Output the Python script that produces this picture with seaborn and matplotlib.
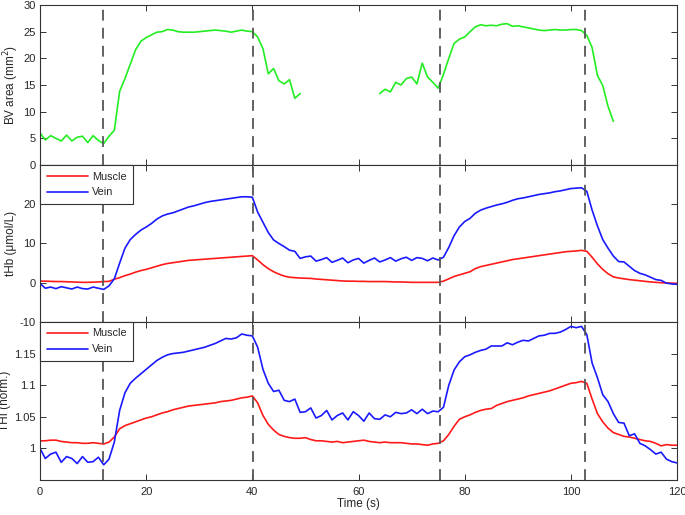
import numpy as np
import pandas as pd
import matplotlib
matplotlib.use('Agg')
import matplotlib.pyplot as plt
import seaborn as sns

# time axis, 1 s sampling
time = np.arange(0, 121)

# BV area (mm^2), NaN where the vessel was not tracked
bv_area = [6.0, 4.7, 5.5, 5.0, 4.5, 5.6, 4.5, 5.2, 5.4, 4.2,
           5.5, 4.6, 4.0, 5.4, 6.5, 13.8, 16.2, 18.9, 21.6, 23.2,
           23.9, 24.4, 24.9, 25.0, 25.4, 25.3, 25.0, 24.9, 24.9, 24.9,
           25.0, 25.1, 25.2, 25.3, 25.2, 25.1, 24.9, 25.1, 25.3, 25.1,
           25.0, 24.0, 21.8, 17.1, 18.1, 15.8, 15.2, 16.0, 12.5, 13.4,
           np.nan, np.nan, np.nan, np.nan, np.nan, np.nan, np.nan, np.nan, np.nan, np.nan,
           np.nan, np.nan, np.nan, np.nan, 13.4, 14.2, 13.7, 15.5, 15.0, 16.2,
           16.5, 15.2, 19.1, 16.5, 15.5, 14.4, 17.0, 20.0, 22.8, 23.6,
           24.0, 25.0, 25.9, 26.3, 26.1, 26.2, 26.1, 26.4, 26.5, 26.0,
           26.1, 25.9, 25.7, 25.5, 25.3, 25.2, 25.3, 25.4, 25.3, 25.3,
           25.4, 25.4, 25.2, 24.3, 22.0, 16.8, 14.9, 11.0, 8.2, np.nan,
           np.nan, np.nan, np.nan, np.nan, np.nan, np.nan, np.nan, np.nan, np.nan, np.nan,
           np.nan]

# tHb (umol/L)
thb_muscle = [0.4, 0.4, 0.35, 0.3, 0.3, 0.25, 0.2, 0.15, 0.1, 0.1,
              0.15, 0.2, 0.3, 0.35, 0.9, 1.3, 1.8, 2.2, 2.7, 3.1,
              3.4, 3.8, 4.2, 4.6, 4.9, 5.1, 5.3, 5.5, 5.7, 5.8,
              5.9, 6.0, 6.1, 6.2, 6.3, 6.4, 6.5, 6.6, 6.7, 6.8,
              6.9, 5.8, 4.6, 3.6, 2.8, 2.2, 1.7, 1.4, 1.3, 1.2,
              1.15, 1.1, 0.95, 0.85, 0.75, 0.65, 0.55, 0.45, 0.4, 0.4,
              0.35, 0.35, 0.3, 0.3, 0.3, 0.3, 0.25, 0.2, 0.2, 0.15,
              0.1, 0.1, 0.1, 0.1, 0.1, 0.1, 0.4, 1.0, 1.6, 2.0,
              2.4, 2.8, 3.6, 4.1, 4.4, 4.7, 5.0, 5.3, 5.6, 5.9,
              6.1, 6.3, 6.5, 6.7, 6.9, 7.1, 7.3, 7.5, 7.7, 7.9,
              8.0, 8.1, 8.25, 8.0, 6.5, 4.8, 3.4, 2.3, 1.5, 1.2,
              1.0, 0.8, 0.65, 0.5, 0.35, 0.2, 0.1, 0.0, -0.05, -0.1,
              -0.15]
thb_vein = [-0.2, -1.4, -1.1, -1.5, -1.0, -1.3, -1.6, -1.1, -1.5, -1.6,
            -1.1, -1.4, -1.7, -0.8, 1.0, 5.0, 8.8, 11.0, 12.3, 13.4,
            14.2, 15.1, 16.2, 17.0, 17.5, 17.8, 18.3, 18.8, 19.3, 19.6,
            20.0, 20.4, 20.7, 20.9, 21.1, 21.3, 21.5, 21.7, 21.9, 21.9,
            21.8, 18.0, 15.4, 12.8, 10.9, 10.0, 9.2, 8.3, 8.0, 6.2,
            6.6, 6.8, 5.5, 5.9, 6.4, 5.2, 5.7, 6.3, 5.1, 5.8,
            6.2, 5.0, 5.7, 6.3, 5.3, 5.8, 6.4, 5.5, 6.1, 6.5,
            5.7, 6.4, 6.2, 5.6, 6.3, 5.8, 6.5, 9.0, 12.0, 14.2,
            15.6, 16.4, 17.7, 18.5, 19.0, 19.4, 19.8, 20.1, 20.5, 21.0,
            21.4, 21.6, 21.9, 22.2, 22.5, 22.7, 22.9, 23.2, 23.4, 23.7,
            24.0, 24.1, 24.2, 23.3, 18.5, 14.5, 11.0, 8.8, 6.8, 5.4,
            5.3, 4.2, 3.1, 2.4, 2.0, 1.4, 0.8, 0.6, -0.1, -0.3,
            -0.4]

# THI (normalised)
thi_muscle = [1.012, 1.012, 1.013, 1.013, 1.011, 1.010, 1.009, 1.009, 1.008, 1.008,
              1.009, 1.008, 1.007, 1.010, 1.018, 1.031, 1.036, 1.039, 1.042, 1.045,
              1.048, 1.050, 1.053, 1.056, 1.058, 1.061, 1.063, 1.065, 1.067, 1.068,
              1.069, 1.070, 1.071, 1.072, 1.074, 1.075, 1.076, 1.078, 1.080, 1.081,
              1.083, 1.072, 1.052, 1.038, 1.029, 1.022, 1.019, 1.017, 1.016, 1.016,
              1.017, 1.014, 1.012, 1.012, 1.011, 1.010, 1.011, 1.009, 1.010, 1.011,
              1.012, 1.013, 1.011, 1.010, 1.009, 1.010, 1.009, 1.009, 1.009, 1.008,
              1.007, 1.007, 1.006, 1.005, 1.007, 1.008, 1.012, 1.022, 1.035, 1.046,
              1.050, 1.053, 1.057, 1.060, 1.062, 1.063, 1.068, 1.071, 1.074, 1.076,
              1.078, 1.080, 1.083, 1.085, 1.087, 1.089, 1.091, 1.094, 1.097, 1.100,
              1.103, 1.104, 1.106, 1.103, 1.078, 1.055, 1.042, 1.032, 1.025, 1.022,
              1.019, 1.018, 1.016, 1.014, 1.012, 1.011, 1.008, 1.004, 1.006, 1.005,
              1.005]
thi_vein = [1.000, 0.984, 0.991, 0.994, 0.978, 0.987, 0.984, 0.976, 0.987, 0.978,
            0.979, 0.986, 0.974, 0.983, 1.010, 1.060, 1.088, 1.103, 1.111, 1.118,
            1.125, 1.132, 1.139, 1.144, 1.148, 1.150, 1.151, 1.152, 1.154, 1.156,
            1.158, 1.160, 1.163, 1.166, 1.170, 1.174, 1.173, 1.175, 1.181, 1.179,
            1.178, 1.160, 1.125, 1.103, 1.090, 1.092, 1.076, 1.074, 1.078, 1.057,
            1.058, 1.064, 1.048, 1.052, 1.060, 1.045, 1.052, 1.056, 1.045, 1.058,
            1.052, 1.043, 1.056, 1.047, 1.046, 1.053, 1.050, 1.057, 1.055, 1.056,
            1.061, 1.055, 1.062, 1.055, 1.059, 1.058, 1.065, 1.100, 1.124, 1.137,
            1.145, 1.148, 1.152, 1.155, 1.157, 1.162, 1.162, 1.162, 1.167, 1.164,
            1.168, 1.171, 1.170, 1.174, 1.178, 1.179, 1.182, 1.182, 1.184, 1.188,
            1.193, 1.191, 1.193, 1.180, 1.135, 1.112, 1.085, 1.074, 1.055, 1.041,
            1.040, 1.020, 1.023, 1.008, 1.004, 0.998, 0.991, 0.994, 0.983, 0.979,
            0.977]

# event markers (s)
stim_times = [11.9, 40.2, 75.4, 102.7]

tissues = ['Muscle', 'Vein']
palette = {'Muscle': '#ff1a1a', 'Vein': '#1a1aff'}

# build long-form tables
df_bv = pd.DataFrame({'Time': time, 'BV': bv_area})
df_bv['segment'] = df_bv['BV'].isna().cumsum()
df_bv = df_bv.dropna()

df_thb = pd.concat([
    pd.DataFrame({'Time': time, 'value': thb_muscle, 'Tissue': 'Muscle'}),
    pd.DataFrame({'Time': time, 'value': thb_vein, 'Tissue': 'Vein'}),
])
df_thi = pd.concat([
    pd.DataFrame({'Time': time, 'value': thi_muscle, 'Tissue': 'Muscle'}),
    pd.DataFrame({'Time': time, 'value': thi_vein, 'Tissue': 'Vein'}),
])

sns.set_style('white')
plt.rcParams['font.family'] = ['Liberation Sans', 'DejaVu Sans']
plt.rcParams['axes.unicode_minus'] = False

fig = plt.figure(figsize=(6.85, 5.15), dpi=100)
ax1 = fig.add_axes([0.0584, 0.6796, 0.930, 0.3107])
ax2 = fig.add_axes([0.0584, 0.3748, 0.930, 0.3048])
ax3 = fig.add_axes([0.0584, 0.0680, 0.930, 0.3068])

sns.lineplot(data=df_bv, x='Time', y='BV', units='segment', estimator=None,
             color='#22ee22', linewidth=1.2, ax=ax1)
sns.lineplot(data=df_thb, x='Time', y='value', hue='Tissue', hue_order=tissues,
             palette=palette, linewidth=1.2, ax=ax2)
sns.lineplot(data=df_thi, x='Time', y='value', hue='Tissue', hue_order=tissues,
             palette=palette, linewidth=1.2, ax=ax3)

ax1.set_ylim(0, 30)
ax1.set_yticks([0, 5, 10, 15, 20, 25, 30])
ax1.set_ylabel('BV area (mm$^2$)', fontsize=8.5, labelpad=2)

ax2.set_ylim(-10, 30)
ax2.set_yticks([-10, 0, 10, 20])
ax2.set_ylabel('tHb (\u03bcmol/L)', fontsize=8.5, labelpad=2)

ax3.set_ylim(0.95, 1.2)
ax3.set_yticks([1, 1.05, 1.1, 1.15])
ax3.set_yticklabels(['1', '1.05', '1.1', '1.15'])
ax3.set_ylabel('THI (norm.)', fontsize=8.5, labelpad=2)
ax3.set_xlabel('Time (s)', fontsize=8.5, labelpad=1)

for ax in (ax1, ax2, ax3):
    ax.set_xlim(0, 120)
    ax.set_xticks([0, 20, 40, 60, 80, 100, 120])
    ax.tick_params(direction='in', bottom=True, left=True, top=True, right=True,
                   length=4, width=0.7, color='#333333', labelsize=8,
                   labelcolor='#262626', pad=3)
    ax.tick_params(axis='x', pad=5)
    for sp in ax.spines.values():
        sp.set_color('#333333')
        sp.set_linewidth(0.8)
    for t in stim_times:
        ax.axvline(t, color='#555555', linestyle=(0, (6, 4)), linewidth=1.3, zorder=5)

for ax in (ax1, ax2):
    ax.set_xlabel('')
    ax.tick_params(labelbottom=False)

for ax in (ax2, ax3):
    handles, labels = ax.get_legend_handles_labels()
    leg = ax.legend(handles, labels, loc='upper left', borderaxespad=0,
                    fontsize=7.8, fancybox=False, framealpha=1,
                    handlelength=3.8, labelspacing=0.55, borderpad=0.6,
                    handletextpad=0.4)
    leg.get_frame().set_edgecolor('#333333')
    leg.get_frame().set_linewidth(0.8)

fig.savefig('out.png', dpi=100)
